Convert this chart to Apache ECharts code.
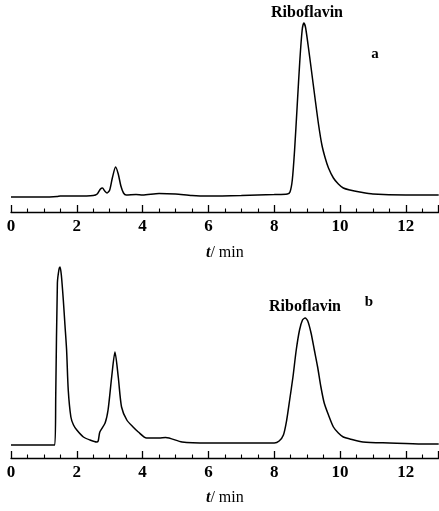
<!DOCTYPE html>
<html>
<head>
<meta charset="utf-8">
<script src="https://cdn.jsdelivr.net/npm/echarts@6/dist/echarts.min.js"></script>
<style>
html,body{margin:0;padding:0;background:#fff;}
#c{width:439px;height:511px;}
</style>
</head>
<body>
<div id="c"></div>
<script>
// Panel a: time (min) and detector response (arbitrary units)
var timeA = [0, 1.0, 1.4, 1.5, 2.0, 2.5, 2.62, 2.72, 2.78, 2.85, 2.92, 3.0, 3.08, 3.18, 3.26, 3.34, 3.42, 3.5, 3.8, 4.0, 4.5, 5.0, 5.5, 6.0, 7.0, 8.0, 8.4, 8.48, 8.55, 8.62, 8.7, 8.78, 8.85, 8.9, 8.95, 9.03, 9.13, 9.24, 9.35, 9.45, 9.55, 9.65, 9.8, 9.95, 10.1, 10.3, 10.6, 11, 12, 13];
var signalA = [13, 13, 13.5, 14, 14, 14.5, 16, 21, 22, 19, 17, 20, 32, 43, 36, 24, 17, 15, 15.5, 15, 16.5, 16, 14.5, 14, 14.5, 15.5, 16, 18, 30, 60, 105, 150, 180, 187, 183, 165, 140, 112, 85, 65, 52, 42, 32, 26, 22, 20, 18, 16, 15, 15];
// Panel b
var timeB = [0, 1.33, 1.36, 1.41, 1.46, 1.49, 1.53, 1.59, 1.64, 1.69, 1.74, 1.82, 1.9, 2.0, 2.2, 2.4, 2.6, 2.65, 2.7, 2.86, 2.95, 3.06, 3.16, 3.26, 3.36, 3.52, 3.71, 3.87, 4.12, 4.5, 4.7, 5.2, 6.0, 7.0, 8.0, 8.15, 8.28, 8.38, 8.47, 8.57, 8.67, 8.77, 8.86, 8.94, 9.02, 9.12, 9.22, 9.32, 9.42, 9.52, 9.65, 9.8, 9.95, 10.1, 10.3, 10.7, 11.5, 12.5, 13];
var signalB = [10, 10, 60, 172, 186, 188, 180, 155, 130, 105, 65, 38, 30, 25, 18, 15, 13, 14, 23, 32, 45, 78, 103, 78, 48, 35, 28, 23, 17, 17, 17.5, 13, 12, 12, 12, 14, 20, 35, 55, 78, 105, 125, 135, 137, 134, 122, 105, 88, 68, 52, 40, 28, 22, 18, 16, 13, 12, 11, 11];
var xTicks = [0, 2, 4, 6, 8, 10, 12];
var peakLabel = 'Riboflavin';

function zip(x, y) { return x.map(function (v, i) { return [v, y[i]]; }); }

var serif = "'Liberation Serif','DejaVu Serif',serif";
function xAxisCfg(gi, gap) {
  return {
    type: 'value', gridIndex: gi, min: 0, max: 13, interval: 2,
    axisLine: { show: true, onZero: false, lineStyle: { color: '#000', width: 1.3 } },
    axisTick: { show: true, inside: true, length: 7, lineStyle: { color: '#000', width: 1.3 } },
    minorTick: { show: true, splitNumber: 4, length: 3.5, lineStyle: { color: '#000', width: 1.1 } },
    splitLine: { show: false },
    axisLabel: {
      color: '#000', fontFamily: serif, fontWeight: 'bold', fontSize: 17, margin: 6,
      showMaxLabel: false,
      formatter: function (v) { return xTicks.indexOf(v) >= 0 ? String(v) : ''; }
    },
    name: '{i|t}{n|/ min}', nameLocation: 'middle', nameGap: gap,
    nameTextStyle: {
      rich: {
        i: { fontFamily: serif, fontStyle: 'italic', fontWeight: 'bold', fontSize: 16, color: '#000' },
        n: { fontFamily: serif, fontSize: 16, color: '#000' }
      }
    }
  };
}

var chart = echarts.init(document.getElementById('c'), null, { renderer: 'canvas' });
chart.setOption({
  animation: false,
  backgroundColor: '#fff',
  grid: [
    { left: 11, right: 0.3, top: 12, height: 200 },
    { left: 11, right: 0.3, top: 258, height: 200 }
  ],
  xAxis: [xAxisCfg(0, 33), xAxisCfg(1, 32)],
  yAxis: [
    { type: 'value', gridIndex: 0, min: -2, max: 198, show: false },
    { type: 'value', gridIndex: 1, min: -3, max: 197, show: false }
  ],
  series: [
    { type: 'line', xAxisIndex: 0, yAxisIndex: 0, data: zip(timeA, signalA), smooth: 0.25, showSymbol: false,
      lineStyle: { color: '#000', width: 1.5 } },
    { type: 'line', xAxisIndex: 1, yAxisIndex: 1, data: zip(timeB, signalB), smooth: 0.25, showSymbol: false,
      lineStyle: { color: '#000', width: 1.5 } }
  ],
  graphic: [
    { type: 'text', x: 307, y: 13, style: { text: peakLabel, font: "bold 16px 'Liberation Serif', serif", fill: '#000', textAlign: 'center', textVerticalAlign: 'middle' } },
    { type: 'text', x: 375, y: 54, style: { text: 'a', font: "bold 15px 'Liberation Serif', serif", fill: '#000', textAlign: 'center', textVerticalAlign: 'middle' } },
    { type: 'text', x: 305, y: 307, style: { text: peakLabel, font: "bold 16px 'Liberation Serif', serif", fill: '#000', textAlign: 'center', textVerticalAlign: 'middle' } },
    { type: 'text', x: 369, y: 302, style: { text: 'b', font: "bold 15px 'Liberation Serif', serif", fill: '#000', textAlign: 'center', textVerticalAlign: 'middle' } }
  ]
});
</script>
</body>
</html>
